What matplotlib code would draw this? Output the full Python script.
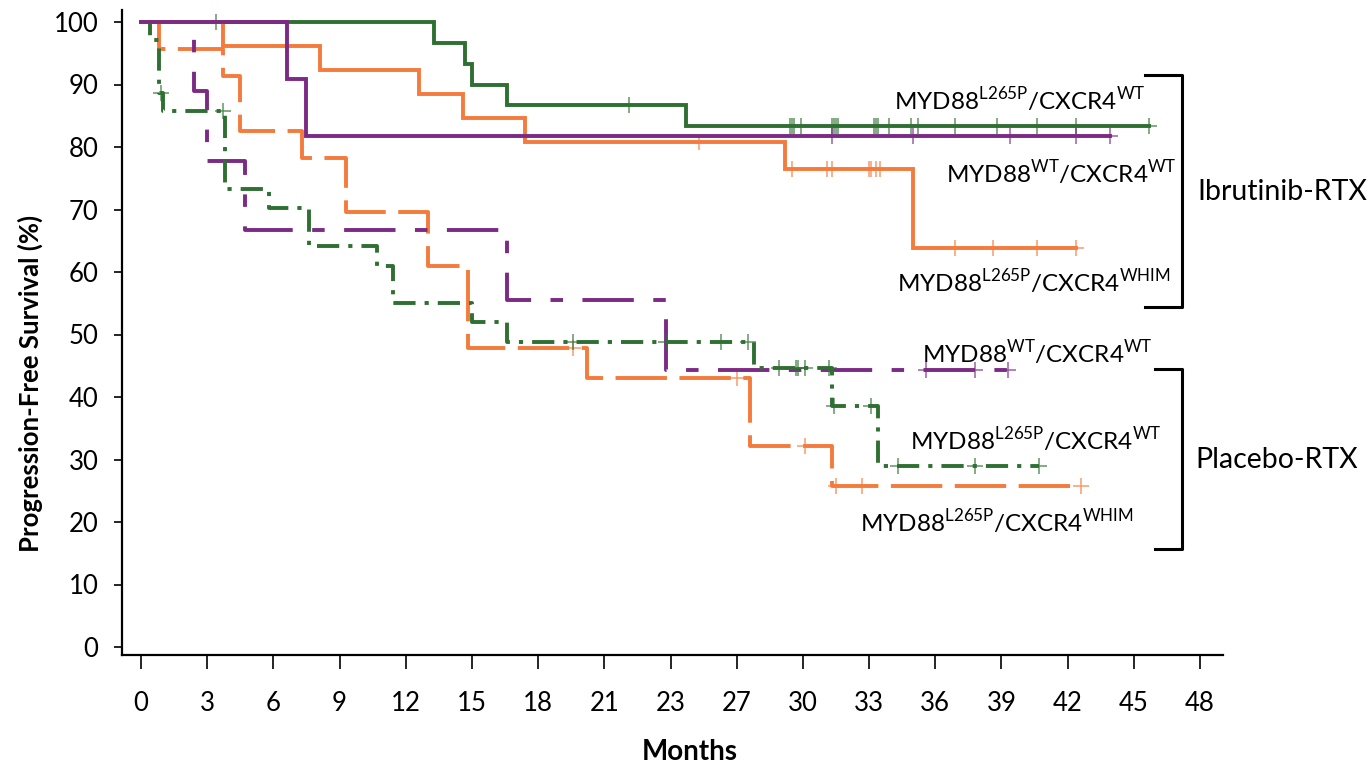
import numpy as np
import matplotlib
matplotlib.use("Agg")
import matplotlib.pyplot as plt

plt.rcParams['font.family'] = ['Lato', 'DejaVu Sans']
plt.rcParams['mathtext.fontset'] = 'custom'
plt.rcParams['mathtext.rm'] = 'Lato'
plt.rcParams['lines.scale_dashes'] = False

# Kaplan-Meier curves (months, PFS %)
# Ibrutinib-RTX
ibr_l265p_wt_t = [0, 13.3, 14.7, 15.0, 16.6, 24.7]
ibr_l265p_wt_s = [100, 96.7, 93.3, 90.0, 86.7, 83.3]
ibr_l265p_wt_end = 45.7
ibr_l265p_wt_cens = [3.4, 22.1, 29.4, 29.5, 29.6, 29.9, 31.3, 31.4, 31.5, 31.6, 33.2, 33.3,
                     33.4, 33.9, 34.9, 35.2, 36.9, 38.8, 40.6, 42.4, 45.7]

ibr_wt_wt_t = [0, 6.6, 7.5]
ibr_wt_wt_s = [100, 90.9, 81.8]
ibr_wt_wt_end = 43.9
ibr_wt_wt_cens = [31.3, 35.0, 39.4, 42.4, 43.9]

ibr_whim_t = [0, 3.7, 8.1, 12.6, 14.6, 17.4, 29.2, 35.0]
ibr_whim_s = [100, 96.2, 92.3, 88.5, 84.6, 80.8, 76.5, 63.8]
ibr_whim_end = 42.4
ibr_whim_cens = [25.3, 29.5, 31.1, 31.3, 33.0, 33.1, 33.3, 33.5, 36.9, 38.6, 40.6, 42.4]

# Placebo-RTX
pbo_l265p_wt_t = [0, 0.4, 0.8, 1.0, 3.8, 5.8, 7.6, 10.7, 11.4, 15.0, 16.6, 27.8, 31.3, 33.4]
pbo_l265p_wt_s = [100, 97.1, 88.6, 85.7, 73.3, 70.3, 64.1, 61.0, 55.0, 52.0, 48.8, 44.6, 38.6, 29.0]
pbo_l265p_wt_end = 40.7
pbo_l265p_wt_cens = [0.9, 3.7, 19.6, 23.8, 26.3, 27.5, 28.9, 29.7, 29.8, 30.1, 31.2, 31.4,
                     33.1, 34.3, 37.8, 40.7]

pbo_wt_wt_t = [0, 2.4, 3.0, 4.7, 16.6, 23.8]
pbo_wt_wt_s = [100, 88.9, 77.8, 66.7, 55.6, 44.4]
pbo_wt_wt_end = 39.3
pbo_wt_wt_cens = [35.6, 37.8, 39.3]

pbo_whim_t = [0, 0.8, 3.7, 4.5, 7.3, 9.3, 13.0, 14.8, 20.2, 27.6, 31.3]
pbo_whim_s = [100, 95.7, 91.3, 82.6, 78.3, 69.6, 60.9, 47.8, 43.0, 32.2, 25.8]
pbo_whim_end = 42.6
pbo_whim_cens = [19.6, 27.0, 30.1, 31.5, 32.7, 42.6]

xtick_pos = list(range(0, 49, 3))
xtick_labels = ['0', '3', '6', '9', '12', '15', '18', '21', '23', '27', '30', '33',
                '36', '39', '42', '45', '48']
ytick_pos = list(range(0, 101, 10))

GREEN = '#2e7031'
ORANGE = '#f47b3c'
PURPLE = '#7b2a85'


def km(ax, t, s, end, cens, color, dashes=None):
    tt = list(t) + [end]
    ss = list(s) + [s[-1]]
    kw = dict(color=color, lw=2.8, solid_joinstyle='miter')
    if dashes is not None:
        kw['dashes'] = dashes
    ax.step(tt, ss, where='post', **kw)
    # censor marks sit on the curve
    idx = np.searchsorted(t, cens, side='right') - 1
    cy = np.array(s)[idx]
    ax.plot(cens, cy, ls='none', marker='+', ms=11, mew=1.1, color=color, alpha=0.75)


fig = plt.figure(figsize=(13.7, 7.7), dpi=100)
ax = fig.add_axes([122 / 1370, 1 - 655 / 770, (1223 - 122) / 1370, (655 - 9.5) / 770])

km(ax, pbo_whim_t, pbo_whim_s, pbo_whim_end, pbo_whim_cens, ORANGE, dashes=(37, 9))
km(ax, pbo_wt_wt_t, pbo_wt_wt_s, pbo_wt_wt_end, pbo_wt_wt_cens, PURPLE, dashes=(37, 14, 9, 14))
km(ax, pbo_l265p_wt_t, pbo_l265p_wt_s, pbo_l265p_wt_end, pbo_l265p_wt_cens, GREEN,
   dashes=(16, 6.5, 3, 6.5))
km(ax, ibr_l265p_wt_t, ibr_l265p_wt_s, ibr_l265p_wt_end, ibr_l265p_wt_cens, GREEN)
km(ax, ibr_whim_t, ibr_whim_s, ibr_whim_end, ibr_whim_cens, ORANGE)
km(ax, ibr_wt_wt_t, ibr_wt_wt_s, ibr_wt_wt_end, ibr_wt_wt_cens, PURPLE)

ax.set_xlim(-0.86, 49.04)
ax.set_ylim(-1.28, 102)
ax.set_xticks(xtick_pos)
ax.set_xticklabels(xtick_labels)
ax.set_yticks(ytick_pos)
ax.spines['top'].set_visible(False)
ax.spines['right'].set_visible(False)
for sp in ('left', 'bottom'):
    ax.spines[sp].set_linewidth(1.6)
ax.tick_params(axis='x', direction='out', length=10, width=1.2, pad=16, labelsize=18.5)
ax.tick_params(axis='y', direction='out', length=6, width=1.2, pad=11, labelsize=18.5)

fig.text(690 / 1370, 1 - 752 / 770, 'Months', fontsize=20, fontweight='bold',
         ha='center', va='center')
fig.text(30 / 1370, 1 - 383 / 770, 'Progression-Free Survival (%)', fontsize=18.5,
         fontweight='bold', rotation=90, ha='center', va='center')

# group labels
labels = [
    (1020, 110, r'MYD88$^{\mathrm{L265P}}$/CXCR4$^{\mathrm{WT}}$'),
    (1061, 183, r'MYD88$^{\mathrm{WT}}$/CXCR4$^{\mathrm{WT}}$'),
    (1034, 292, r'MYD88$^{\mathrm{L265P}}$/CXCR4$^{\mathrm{WHIM}}$'),
    (1037, 363, r'MYD88$^{\mathrm{WT}}$/CXCR4$^{\mathrm{WT}}$'),
    (1036, 450, r'MYD88$^{\mathrm{L265P}}$/CXCR4$^{\mathrm{WT}}$'),
    (997, 532, r'MYD88$^{\mathrm{L265P}}$/CXCR4$^{\mathrm{WHIM}}$'),
]
for px, py, s in labels:
    fig.text(px / 1370, 1 - py / 770, s, fontsize=17.5, ha='center', va='baseline')

# brackets
for xs, ys in [([1145, 1182, 1182, 1145], [75, 75, 307, 307]),
               ([1155, 1182, 1182, 1155], [369, 369, 549, 549])]:
    ax.plot([x / 1370 for x in xs], [1 - y / 770 for y in ys], color='black', lw=2.2,
            transform=fig.transFigure, clip_on=False)
fig.text(1197 / 1370, 1 - 200 / 770, 'Ibrutinib-RTX', fontsize=20.5, ha='left', va='baseline')
fig.text(1195 / 1370, 1 - 468 / 770, 'Placebo-RTX', fontsize=20.5, ha='left', va='baseline')

fig.savefig('out.png', dpi=100)
